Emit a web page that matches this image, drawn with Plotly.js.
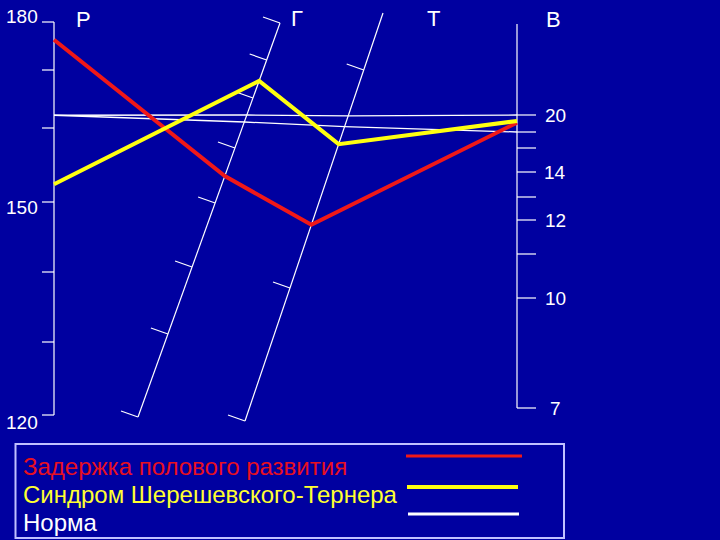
<!DOCTYPE html>
<html>
<head>
<meta charset="utf-8">
<script src="https://cdn.plot.ly/plotly-3.0.1.min.js"></script>
<style>html,body{margin:0;padding:0;background:#0000a0;overflow:hidden}</style>
</head>
<body>
<div id="chart" style="width:720px;height:540px"></div>
<script>
// ---------- data ----------
const PARAMS = ['Р', 'Г', 'Т', 'В'];
const ROST_TICKS = [120, 130, 140, 150, 160, 170, 180];
const ROST_LABELS = [120, 150, 180];
const G_TICKS = [0, 1, 2, 3, 4, 5, 6, 7];
const T_TICKS = [0, 1, 2];
const V_TICKS = [7, 10, 11, 12, 13, 14, 16, 18, 20];
const V_LABELS = [7, 10, 12, 14, 20];

const DELAY = [176.3, 3.49, 1.29, 19.1];      // Задержка полового развития
const TURNER = [152.4, 5.45, 1.66, 19.3];     // Синдром Шерешевского-Тернера
const NORM = [162.2, 4.52, 1.74, 18];         // Норма
const NORM_LEVEL = [162.2, 4.66, 1.79, 20];   // Норма (уровень)

const LEGEND_NAMES = ['Задержка полового развития', 'Синдром Шерешевского-Тернера', 'Норма'];

// ---------- geometry of the four scales (layout) ----------
const GEOM = {
  'Р': {ticks: ROST_TICKS, a: [54, 415], b: [54, 22], ends: [415, 22],
        tickPos: [415, 342, 272, 202, 128, 70, 22], tv: [-12, 0]},
  'Г': {ticks: G_TICKS, a: [138, 417], b: [280, 23], ends: [417, 23],
        tickPos: [417, 334, 267, 203, 148, 98, 60, 23], tv: [-17, -6]},
  'Т': {ticks: T_TICKS, a: [245, 421], b: [383, 13], ends: [421, 13],
        tickPos: [421, 288, 70], tv: [-17, -6]},
  'В': {ticks: V_TICKS, a: [517, 408], b: [517, 24], ends: [408, 24],
        tickPos: [408, 298, 254, 220, 197, 172, 148, 132, 115], tv: [19, 0]}
};

function xAt(g, y) {
  return g.a[0] + (g.b[0] - g.a[0]) * (g.a[1] - y) / (g.a[1] - g.b[1]);
}
function point(key, v) {
  const g = GEOM[key], t = g.ticks, p = g.tickPos;
  let i = 0;
  while (i < t.length - 2 && v > t[i + 1]) i++;
  const y = p[i] + (v - t[i]) * (p[i + 1] - p[i]) / (t[i + 1] - t[i]);
  return [xAt(g, y), y];
}
function seriesXY(vals) {
  const pts = PARAMS.map((k, i) => point(k, vals[i]));
  return {x: pts.map(p => p[0]), y: pts.map(p => p[1])};
}

// axis lines and ticks
const axX = [], axY = [], tkX = [], tkY = [];
PARAMS.forEach(k => {
  const g = GEOM[k];
  axX.push(xAt(g, g.ends[0]), xAt(g, g.ends[1]), null);
  axY.push(g.ends[0], g.ends[1], null);
  g.ticks.forEach(v => {
    const [px, py] = point(k, v);
    tkX.push(px, px + g.tv[0], null);
    tkY.push(py, py + g.tv[1], null);
  });
});

const WHITE = '#ffffff', RED = '#f01818', YELLOW = '#ffff10';
const FONT = 'Liberation Sans, Arial, sans-serif';

const traces = [
  {x: axX, y: axY, mode: 'lines', line: {color: WHITE, width: 1.2}, hoverinfo: 'skip'},
  {x: tkX, y: tkY, mode: 'lines', line: {color: WHITE, width: 1.2}, hoverinfo: 'skip'},
  Object.assign({mode: 'lines', name: LEGEND_NAMES[2], line: {color: WHITE, width: 1.3}}, seriesXY(NORM_LEVEL)),
  Object.assign({mode: 'lines', name: LEGEND_NAMES[2], line: {color: WHITE, width: 1.3}}, seriesXY(NORM)),
  Object.assign({mode: 'lines', name: LEGEND_NAMES[0], line: {color: RED, width: 4}}, seriesXY(DELAY)),
  Object.assign({mode: 'lines', name: LEGEND_NAMES[1], line: {color: YELLOW, width: 4}}, seriesXY(TURNER))
];

// annotations
const ann = [];
const ROST_DY = {120: 7, 150: 5, 180: -5.5};
ROST_LABELS.forEach(v => {
  const [px, py] = point('Р', v);
  ann.push({x: 22, y: py + ROST_DY[v], text: String(v), font: {size: 19, color: WHITE, family: FONT}});
});
V_LABELS.forEach(v => {
  const [px, py] = point('В', v);
  ann.push({x: 555, y: py, text: String(v), font: {size: 19, color: WHITE, family: FONT}});
});
const HEADER_POS = {'Р': [83, 19], 'Г': [297, 18], 'Т': [433, 18], 'В': [553, 19]};
PARAMS.forEach(k => {
  ann.push({x: HEADER_POS[k][0], y: HEADER_POS[k][1], text: k, font: {size: 22, color: WHITE, family: FONT}});
});
const LEG_COLORS = ['#e81020', '#ffff30', WHITE];
const LEG_Y = [466, 494, 522];
LEGEND_NAMES.forEach((n, i) => {
  ann.push({x: 21, y: LEG_Y[i], text: n, xanchor: 'left', font: {size: 24, color: LEG_COLORS[i], family: FONT}});
});
ann.forEach(a => { a.showarrow = false; a.xref = 'x'; a.yref = 'y'; if (!a.xanchor) a.xanchor = 'center'; a.yanchor = 'middle'; });

const shapes = [
  {type: 'rect', xref: 'x', yref: 'y', x0: 15.5, x1: 564, y0: 444, y1: 538, line: {color: '#c0c0ff', width: 2}},
  {type: 'line', xref: 'x', yref: 'y', x0: 406, x1: 522, y0: 456, y1: 456, line: {color: RED, width: 3}},
  {type: 'line', xref: 'x', yref: 'y', x0: 407, x1: 518, y0: 487, y1: 487, line: {color: YELLOW, width: 4}},
  {type: 'line', xref: 'x', yref: 'y', x0: 408, x1: 519, y0: 514, y1: 514, line: {color: WHITE, width: 3}}
];

const layout = {
  width: 720, height: 540,
  margin: {l: 0, r: 0, t: 0, b: 0, pad: 0},
  paper_bgcolor: '#0000a0', plot_bgcolor: '#0000a0',
  showlegend: false,
  xaxis: {range: [0, 720], visible: false, fixedrange: true},
  yaxis: {range: [540, 0], visible: false, fixedrange: true},
  annotations: ann,
  shapes: shapes
};

Plotly.newPlot('chart', traces, layout, {displayModeBar: false, staticPlot: true});
</script>
</body>
</html>
